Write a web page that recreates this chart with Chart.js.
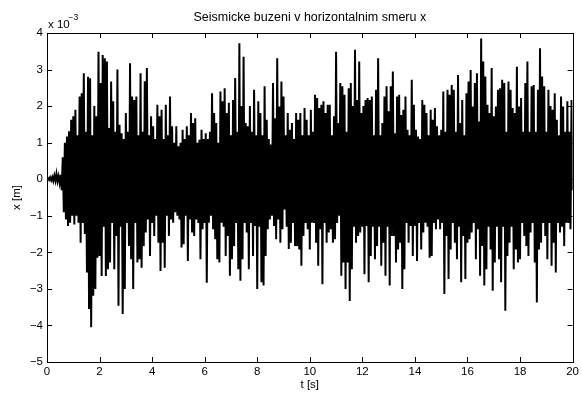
<!DOCTYPE html>
<html>
<head>
<meta charset="utf-8">
<title>Seismicke buzeni</title>
<script src="https://cdn.jsdelivr.net/npm/chart.js@4.4.1/dist/chart.umd.min.js"></script>
<style>
  html, body { margin: 0; padding: 0; background: #fff; }
  #wrap { width: 582px; height: 396px; position: relative; }
</style>
</head>
<body>
<div id="wrap"><canvas id="seismic"></canvas></div>
<script>
// sample step of the record [s]
const dt = 0.04;

// displacement x, in units of 1e-3 m, one row per second
const disp = [
  0, 0.03, -0.02, 0.05, -0.03, 0.06, -0.05, 0.1, -0.04, 0.15, -0.06, 0.08, -0.1, 0.12, -0.3, 0.6, -0.9, 1.0, -1.1, 1.17, -1.28, 1.31, -1.19, 1.63, -1.0,
  1.72, -1.24, 1.9, -1.0, 1.2, -1.19, 2.26, -1.74, 2.35, -1.2, 2.9, -1.5, 1.3, -2.55, 2.8, -3.55, 2.76, -4.05, 1.2, -3.19, 2.0, -3.0, 1.72, -2.15, 3.49,
  -2.1, 2.63, -2.65, 3.4, -1.3, 3.31, -2.65, 3.22, -2.46, 1.4, -2.28, 2.67, -1.2, 2.13, -2.46, 1.3, -1.55, 3.0, -3.46, 1.49, -1.3, 1.26, -3.69, 1.1, -3.0,
  1.81, -1.2, 1.3, -1.83, 3.17, -2.19, 2.26, -3.0, 2.17, -1.2, 2.26, -2.28, 1.2, -2.19, 2.9, -2.42, 1.3, -1.83, 2.68, -1.46, 3.04, -1.1, 1.2, -2.1, 1.72,
  -1.2, 1.45, -1.55, 1.1, -1.0, 2.04, -1.74, 1.72, -2.51, 1.9, -1.74, 1.1, -2.42, 2.04, -1.0, 1.2, -1.55, 2.26, -1.1, 1.45, -1.19, 1.0, -0.9, 1.45, -1.0,
  0.9, -1.1, 1.0, -1.87, 1.35, -1.78, 1.1, -1.0, 1.45, -2.24, 1.2, -1.1, 1.81, -1.46, 1.54, -1.55, 1.67, -1.1, 1.0, -1.2, 1.08, -2.19, 1.35, -1.37, 1.1,
  -1.2, 1.26, -2.83, 1.1, -1.19, 1.3, -1.0, 2.35, -1.37, 1.81, -1.64, 1.54, -2.19, 1.0, -2.28, 2.4, -1.19, 2.13, -1.3, 2.49, -2.1, 1.81, -1.55, 2.09, -2.64,
  1.2, -2.19, 2.17, -1.83, 2.77, -1.2, 1.3, -2.46, 3.72, -2.78, 2.0, -2.19, 3.35, -1.2, 1.54, -1.46, 1.45, -2.46, 2.0, -1.2, 1.3, -2.1, 2.45, -1.28, 1.2,
  -3.0, 2.13, -1.3, 1.81, -2.82, 1.2, -2.91, 2.54, -2.1, 1.63, -1.37, 1.1, -1.1, 0.95, -1.0, 2.63, -1.28, 1.67, -1.64, 3.31, -1.1, 1.99, -1.74, 2.67, -1.37,
  2.26, -0.83, 1.2, -1.3, 1.81, -1.91, 1.35, -1.74, 1.54, -1.2, 1.1, -1.83, 1.81, -1.83, 1.63, -1.92, 1.81, -2.37, 1.2, -1.55, 1.95, -1.2, 1.63, -1.37, 1.2,
  -1.92, 1.9, -1.19, 1.3, -1.2, 2.31, -1.74, 2.22, -2.37, 1.95, -1.37, 2.04, -2.87, 2.13, -1.2, 1.81, -1.74, 2.04, -1.46, 2.04, -1.37, 1.2, -1.74, 1.72, -1.64,
  3.49, -1.2, 1.54, -1.0, 2.63, -2.64, 2.54, -2.28, 2.31, -3.0, 1.3, -2.28, 2.49, -3.33, 2.63, -2.46, 2.0, -1.3, 3.54, -1.74, 2.17, -1.55, 3.22, -1.46, 1.81,
  -1.3, 2.0, -2.6, 2.17, -1.28, 2.22, -2.82, 2.17, -2.1, 2.26, -1.3, 1.2, -2.19, 2.45, -1.83, 3.31, -1.3, 1.2, -2.37, 1.54, -1.74, 2.26, -2.64, 2.54, -1.3,
  1.86, -2.91, 2.54, -1.55, 2.95, -1.55, 1.26, -2.28, 2.26, -1.92, 2.31, -1.74, 1.76, -3.0, 1.9, -2.46, 2.26, -1.2, 1.35, -1.74, 1.2, -1.28, 2.72, -2.1, 2.04,
  -1.28, 1.35, -2.24, 1.17, -1.2, 1.1, -1.92, 2.17, -1.46, 2.04, -1.19, 1.81, -1.3, 1.2, -2.15, 1.9, -2.1, 1.63, -1.2, 1.95, -1.37, 1.45, -1.1, 1.2, -1.37,
  1.35, -1.2, 2.4, -3.14, 1.3, -1.55, 2.45, -2.73, 2.31, -1.92, 2.58, -1.2, 2.45, -1.74, 1.3, -2.19, 2.85, -1.3, 1.54, -2.82, 2.17, -1.55, 1.2, -2.73, 2.35,
  -1.74, 2.67, -1.64, 2.99, -1.46, 1.99, -1.2, 2.63, -2.19, 2.9, -1.37, 1.58, -2.64, 3.85, -1.83, 3.22, -2.91, 2.81, -2.46, 2.04, -1.3, 1.81, -1.92, 3.04, -3.05,
  1.72, -2.28, 1.99, -1.3, 2.45, -2.19, 2.49, -2.82, 2.72, -1.3, 2.63, -3.6, 1.3, -2.1, 2.67, -1.74, 2.45, -1.3, 1.95, -2.46, 1.81, -1.92, 3.08, -2.28, 1.99,
  -2.19, 2.22, -1.2, 1.3, -1.55, 2.63, -1.83, 3.22, -2.1, 1.3, -1.46, 2.54, -1.2, 2.58, -2.28, 1.3, -3.37, 2.45, -1.92, 3.58, -1.74, 2.81, -1.2, 2.54, -1.55,
  1.3, -2.19, 2.45, -1.2, 2.0, -2.37, 1.9, -1.74, 2.35, -2.55, 1.63, -1.2, 1.2, -1.46, 2.26, -1.3, 1.99, -1.83, 1.3, -1.19, 2.13, -1.2, 1.3, -1.37, 2.17, -0.3
];

const xTicks = [0, 2, 4, 6, 8, 10, 12, 14, 16, 18, 20];
const yTicks = [-5, -4, -3, -2, -1, 0, 1, 2, 3, 4];

const FONT = '"Liberation Sans", Arial, Helvetica, sans-serif';
Chart.defaults.font.family = FONT;
Chart.defaults.font.size = 11;
Chart.defaults.color = '#000';

const points = disp.map((v, i) => ({ x: +(i * dt).toFixed(2), y: v }));
const minus = v => String(v).replace('-', '\u2212');

// matlab style box, inward ticks and the "x 10^-3" factor
const frame = {
  id: 'frame',
  afterDatasetsDraw(chart) {
    const { ctx, chartArea: a, scales: { x, y } } = chart;
    const len = 5;
    ctx.save();
    ctx.strokeStyle = '#000';
    ctx.lineWidth = 1;
    ctx.strokeRect(Math.round(a.left) + 0.5, Math.round(a.top) + 0.5,
      Math.round(a.right - a.left), Math.round(a.bottom - a.top));
    ctx.beginPath();
    xTicks.forEach(t => {
      const px = Math.round(x.getPixelForValue(t)) + 0.5;
      ctx.moveTo(px, a.bottom); ctx.lineTo(px, a.bottom - len);
      ctx.moveTo(px, a.top); ctx.lineTo(px, a.top + len);
    });
    yTicks.forEach(t => {
      const py = Math.round(y.getPixelForValue(t)) + 0.5;
      ctx.moveTo(a.left, py); ctx.lineTo(a.left + len, py);
      ctx.moveTo(a.right, py); ctx.lineTo(a.right - len, py);
    });
    ctx.stroke();

    ctx.fillStyle = '#000';
    ctx.textBaseline = 'alphabetic';
    ctx.font = '11.5px ' + FONT;
    ctx.fillText('x 10', a.left + 1, a.top - 5.5);
    ctx.font = '8.5px ' + FONT;
    ctx.fillText('\u22123', a.left + 21.5, a.top - 13.5);
    ctx.restore();
  }
};

new Chart(document.getElementById('seismic'), {
  type: 'line',
  data: {
    datasets: [{
      data: points,
      borderColor: '#000',
      borderWidth: 2,
      pointRadius: 0,
      tension: 0,
      fill: false
    }]
  },
  options: {
    responsive: true,
    maintainAspectRatio: false,
    animation: false,
    events: [],
    layout: { padding: { right: 7 } },
    plugins: {
      legend: { display: false },
      tooltip: { enabled: false },
      title: {
        display: true,
        text: 'Seismicke buzeni v horizontalnim smeru x',
        fullSize: false,
        font: { size: 12.5, weight: 'normal' },
        color: '#000',
        padding: { top: 10, bottom: 8 }
      }
    },
    scales: {
      x: {
        type: 'linear',
        min: 0,
        max: 20,
        afterFit(s) { s.height = 34; },
        afterBuildTicks(s) { s.ticks = xTicks.map(v => ({ value: v })); },
        ticks: { padding: 3, maxRotation: 0, autoSkip: false, font: { size: 11.5 }, callback: minus },
        grid: { display: false, drawTicks: false },
        border: { display: false },
        title: { display: true, text: 't [s]', font: { size: 11.5 }, padding: { top: 0, bottom: 4 } }
      },
      y: {
        type: 'linear',
        min: -5,
        max: 4,
        afterFit(s) { s.width = 47; },
        afterBuildTicks(s) { s.ticks = yTicks.map(v => ({ value: v })); },
        ticks: { padding: 4, autoSkip: false, font: { size: 11.5 }, callback: minus },
        grid: { display: false, drawTicks: false },
        border: { display: false },
        title: { display: true, text: 'x [m]', font: { size: 11.5 }, padding: { top: 10, bottom: 0 } }
      }
    }
  },
  plugins: [frame]
});
</script>
</body>
</html>
